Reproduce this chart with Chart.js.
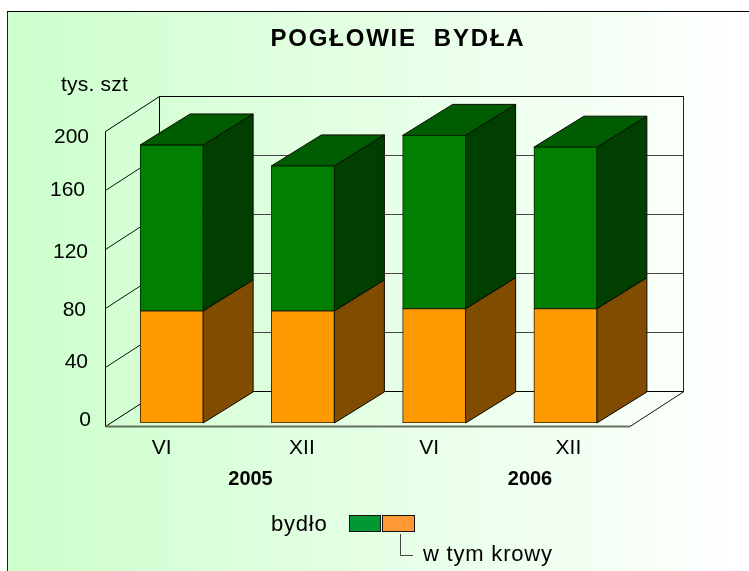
<!DOCTYPE html>
<html>
<head>
<meta charset="utf-8">
<title>Pogłowie bydła</title>
<script src="https://cdn.jsdelivr.net/npm/chart.js@4/dist/chart.umd.min.js"></script>
<style>
    html, body { margin: 0; padding: 0; background: #fff; overflow: hidden; }
    canvas { display: block; }
</style>
</head>
<body>
<canvas id="main" width="749" height="571"></canvas>
<script>
const categories = ['VI', 'XII', 'VI', 'XII'];
const years = ['2005', '2006'];
const cows = [76, 76, 77.5, 77.5];           // w tym krowy
const otherCattle = [112.5, 98.3, 117.5, 109.5];  // reszta bydla, razem do gory slupka
const yTicks = [0, 40, 80, 120, 160, 200];
const chartTitle = 'POGŁOWIE  BYDŁA';
const unitLabel = 'tys. szt';
const legendLabels = ['bydło', 'w tym krowy'];

const FONT = '"Liberation Sans", Arial, sans-serif';

// przesuniecie tylnej sciany i glebokosc slupkow
const wall = { dx: 54, dy: 35 };
const bar = { dx: 50, dy: 31, shiftX: 1, shiftY: -3 };

// etykiety w oryginale sa ustawione recznie, nie rowno ze skala
const yLabelNudge = { 0: [-14, -6], 40: [-17, -5], 80: [-19, 2], 120: [-17, 3], 160: [-20, 0], 200: [-16, 6] };
const xLabelNudge = [-9, 0, -4, 4];

const sideColors = ['#7f4c00', '#003f00'];
const topColor = '#005c00';

function line(ctx, x1, y1, x2, y2, color, width) {
    ctx.strokeStyle = color || '#000';
    ctx.lineWidth = width || 1;
    ctx.beginPath();
    ctx.moveTo(x1, y1);
    ctx.lineTo(x2, y2);
    ctx.stroke();
}

function face(ctx, pts, fill) {
    ctx.fillStyle = fill;
    ctx.strokeStyle = '#0a0a00';
    ctx.lineWidth = 1;
    ctx.beginPath();
    pts.forEach((p, i) => i ? ctx.lineTo(p[0], p[1]) : ctx.moveTo(p[0], p[1]));
    ctx.closePath();
    ctx.fill();
    ctx.stroke();
}

function text(ctx, str, x, y, font, align, spacing) {
    ctx.font = font;
    ctx.fillStyle = '#000';
    ctx.textAlign = align || 'center';
    ctx.textBaseline = 'middle';
    ctx.letterSpacing = spacing || '0px';
    ctx.fillText(str, x, y);
    ctx.letterSpacing = '0px';
}

const backgroundPlugin = {
    id: 'background',
    beforeDraw(chart) {
        const ctx = chart.ctx;
        const g = ctx.createLinearGradient(8, 0, 749, 0);
        g.addColorStop(0, '#ccffcc');
        g.addColorStop(1, '#ffffff');
        ctx.fillStyle = g;
        ctx.fillRect(8, 12, 741, 559);
        line(ctx, 7.5, 11, 7.5, 571, '#222');
        line(ctx, 7, 11.5, 749, 11.5, '#000');
    }
};

const box3dPlugin = {
    id: 'box3d',
    beforeDatasetsDraw(chart) {
        const ctx = chart.ctx;
        const y = chart.scales.y;
        const area = chart.chartArea;
        const left = area.left + 0.5;
        const right = area.right;

        // sciany i podloga
        yTicks.forEach(v => {
            const py = Math.round(y.getPixelForValue(v)) + 0.5;
            const edge = v === 0 || v === 200;
            line(ctx, left, py, left + wall.dx, py - wall.dy, edge ? '#000' : '#111');
            line(ctx, left + wall.dx, py - wall.dy, right + wall.dx, py - wall.dy, edge ? '#000' : '#444');
        });
        const top = Math.round(y.getPixelForValue(200)) + 0.5;
        const bottom = Math.round(y.getPixelForValue(0)) + 0.5;
        line(ctx, left, top, left, bottom, '#000');
        line(ctx, left + wall.dx, top - wall.dy, left + wall.dx, bottom - wall.dy, '#000');
        line(ctx, right + wall.dx - 0.5, top - wall.dy, right + wall.dx - 0.5, bottom - wall.dy, '#222');
        line(ctx, right, bottom, right + wall.dx, bottom - wall.dy, '#111');
        line(ctx, left, bottom, right, bottom, '#66705f', 2);

        // boki i gora slupkow
        chart.data.datasets.forEach((ds, d) => {
            chart.getDatasetMeta(d).data.forEach(el => {
                const xr = el.x + el.width / 2 + bar.shiftX;
                const yTop = el.y + bar.shiftY;
                const yBase = el.base + bar.shiftY;
                face(ctx, [[xr, yTop], [xr + bar.dx, yTop - bar.dy], [xr + bar.dx, yBase - bar.dy], [xr, yBase]], sideColors[d]);
                if (d === chart.data.datasets.length - 1) {
                    const xl = xr - el.width;
                    face(ctx, [[xl, yTop], [xr, yTop], [xr + bar.dx, yTop - bar.dy], [xl + bar.dx, yTop - bar.dy]], topColor);
                }
            });
        });

        ctx.save();
        ctx.translate(bar.shiftX, bar.shiftY);
    },
    afterDatasetsDraw(chart) {
        chart.ctx.restore();
    }
};

const labelsPlugin = {
    id: 'labels',
    afterDraw(chart) {
        const ctx = chart.ctx;
        const x = chart.scales.x;
        const y = chart.scales.y;
        const font = '21px ' + FONT;
        const bold = 'bold 20px ' + FONT;

        text(ctx, chartTitle, 398, 39, 'bold 24px ' + FONT, 'center', '1.8px');
        text(ctx, unitLabel, 61, 85, font, 'left', '0.2px');

        yTicks.forEach(v => {
            const n = yLabelNudge[v];
            text(ctx, String(v), x.left + n[0], y.getPixelForValue(v) + n[1], font, 'right');
        });
        categories.forEach((c, i) => {
            text(ctx, c, x.getPixelForValue(i) + xLabelNudge[i], 448, font);
        });
        text(ctx, years[0], 250.5, 479, bold);
        text(ctx, years[1], 530, 479, bold);

        // legenda
        text(ctx, legendLabels[0], 271, 525, '22px ' + FONT, 'left', '0.8px');
        ctx.fillStyle = '#009933';
        ctx.fillRect(349.5, 515.5, 31, 16);
        ctx.strokeStyle = '#111';
        ctx.lineWidth = 1;
        ctx.strokeRect(349.5, 515.5, 31, 16);
        ctx.fillStyle = '#ff9933';
        ctx.fillRect(382.5, 515.5, 32, 16);
        ctx.strokeRect(382.5, 515.5, 32, 16);
        ctx.strokeStyle = '#444';
        ctx.beginPath();
        ctx.moveTo(400.5, 534);
        ctx.lineTo(400.5, 555.5);
        ctx.lineTo(413, 555.5);
        ctx.stroke();
        text(ctx, legendLabels[1], 423, 555, '22px ' + FONT, 'left', '0.8px');
    }
};

window.onload = function() {
    var main = document.getElementById('main').getContext('2d');
    new Chart(main, {
        type: 'bar',
        data: {
            labels: categories,
            datasets: [{
                label: legendLabels[1],
                data: cows,
                backgroundColor: '#ff9900',
                borderColor: '#2a2000',
                borderWidth: 1,
                borderSkipped: false,
                barThickness: 63
            }, {
                label: legendLabels[0],
                data: otherCattle,
                backgroundColor: '#007f00',
                borderColor: '#002a00',
                borderWidth: 1,
                borderSkipped: false,
                barThickness: 63
            }]
        },
        options: {
            responsive: false,
            animation: false,
            layout: { padding: { left: 105, right: 119, top: 131, bottom: 145 } },
            plugins: { legend: { display: false }, tooltip: { enabled: false } },
            scales: {
                x: {
                    stacked: true,
                    grid: { display: false },
                    border: { display: false },
                    ticks: { display: false },
                    afterFit: s => { s.height = 0; }
                },
                y: {
                    stacked: true,
                    min: 0,
                    max: 200,
                    grid: { display: false },
                    border: { display: false },
                    ticks: { display: false, stepSize: 40 },
                    afterFit: s => { s.width = 0; }
                }
            }
        },
        plugins: [backgroundPlugin, box3dPlugin, labelsPlugin]
    });
};
</script>
</body>
</html>
